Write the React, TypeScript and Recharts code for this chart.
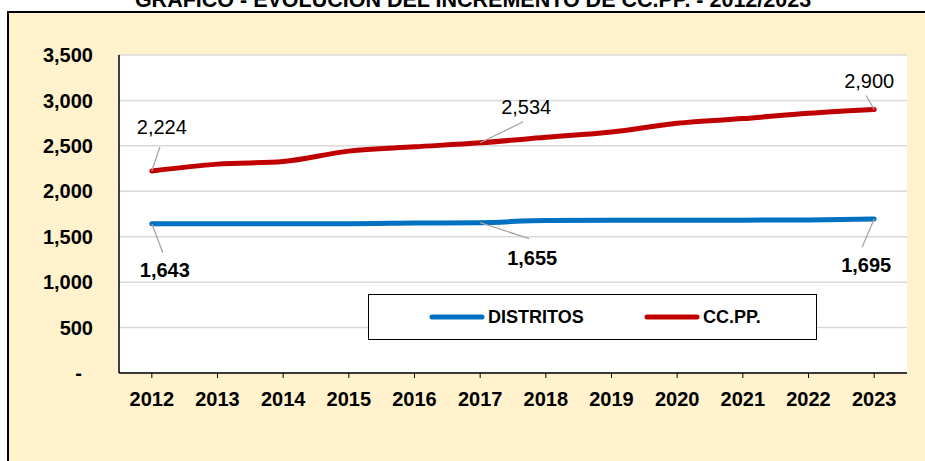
import React from 'react';
import { LineChart, Line, XAxis, YAxis, CartesianGrid, Legend, LabelList } from 'recharts';

const years = ['2012', '2013', '2014', '2015', '2016', '2017', '2018', '2019', '2020', '2021', '2022', '2023'];
const distritos = [1643, 1643, 1643, 1643, 1650, 1655, 1678, 1680, 1680, 1682, 1685, 1695];
const ccpp = [2224, 2299, 2328, 2442, 2489, 2534, 2594, 2652, 2748, 2800, 2858, 2900];
const yTicks = [0, 500, 1000, 1500, 2000, 2500, 3000, 3500];
const seriesNames = ['DISTRITOS', 'CC.PP.'];
const title = 'GRÁFICO - EVOLUCIÓN DEL INCREMENTO DE CC.PP. - 2012/2023';

const data = years.map((y, i) => ({ year: y, distritos: distritos[i], ccpp: ccpp[i] }));

const FONT = '"Liberation Sans", Arial, sans-serif';
const BLUE = '#0070C0';
const RED = '#C00000';

// label placement (styling): text centre offset (tx,ty) and leader end (lx,ly), keyed by point index
const ccppLabelPos: Record<number, { tx: number; ty: number; lx: number; ly: number }> = {
  0: { tx: 10, ty: -44, lx: 8, ly: -24 },
  5: { tx: 46, ty: -36, lx: 43, ly: -21 },
  11: { tx: -5, ty: -29, lx: -8, ly: -14 },
};
const distLabelPos: Record<number, { tx: number; ty: number; lx: number; ly: number }> = {
  0: { tx: 13, ty: 46, lx: 11, ly: 29 },
  5: { tx: 52, ty: 35, lx: 49, ly: 16 },
  11: { tx: -8, ty: 46, lx: -12, ly: 28 },
};

const fmt = (v: number) => v.toLocaleString('en-US');

const makeLabel = (pos: Record<number, any>, bold: boolean) => (props: any) => {
  const { x, y, value, index } = props;
  const o = pos[index];
  if (!o) return null;
  return (
    <g>
      <line x1={x} y1={y} x2={x + o.lx} y2={y + o.ly} stroke="#a6a6a6" strokeWidth={1.3} />
      <text
        x={x + o.tx}
        y={y + o.ty}
        dy="0.36em"
        textAnchor="middle"
        fontFamily={FONT}
        fontSize={20}
        fontWeight={bold ? 'bold' : 'normal'}
        fill="#000"
      >
        {fmt(value)}
      </text>
    </g>
  );
};

const YTick = (props: any) => {
  const { x, y, payload } = props;
  const isZero = payload.value === 0;
  return (
    <text
      x={isZero ? x - 11 : x}
      y={y}
      dy="0.36em"
      textAnchor="end"
      fontFamily={FONT}
      fontSize={20}
      fontWeight="bold"
      fill="#000"
    >
      {isZero ? '-' : fmt(payload.value)}
    </text>
  );
};

const LegendBox = (props: any) => {
  const payload = [...(props.payload || [])].sort(
    (a: any, b: any) => seriesNames.indexOf(a.value) - seriesNames.indexOf(b.value)
  );
  const lefts = [60, 275];
  return (
    <div
      style={{
        width: 449,
        height: 46,
        boxSizing: 'border-box',
        border: '1px solid #000',
        background: '#fff',
        position: 'relative',
        fontFamily: FONT,
      }}
    >
      {payload.map((p: any, i: number) => (
        <div
          key={i}
          style={{
            position: 'absolute',
            left: lefts[i],
            top: 0,
            height: 44,
            display: 'flex',
            alignItems: 'center',
          }}
        >
          <svg width={56} height={10} style={{ display: 'block' }}>
            <line x1={3} y1={5} x2={53} y2={5} stroke={p.color} strokeWidth={5} strokeLinecap="round" />
          </svg>
          <span style={{ fontSize: 18, fontWeight: 'bold', color: '#000', marginLeft: 3, whiteSpace: 'nowrap' }}>
            {p.value}
          </span>
        </div>
      ))}
    </div>
  );
};

export default function App() {
  return (
    <div style={{ position: 'fixed', left: 0, top: 0, width: 925, height: 461, overflow: 'hidden', background: '#fff' }}>
      <div
        style={{
          position: 'absolute',
          left: 7,
          top: 11,
          width: 960,
          height: 500,
          background: '#FFF2CC',
          borderLeft: '2px solid #000',
          borderTop: '2px solid #000',
          boxSizing: 'border-box',
        }}
      />
      <svg
        width={925}
        height={20}
        style={{ position: 'absolute', left: 0, top: 0, display: 'block', overflow: 'hidden' }}
      >
        <text x={473} y={7} textAnchor="middle" fontFamily={FONT} fontSize={21.5} fontWeight="bold" fill="#000">
          {title}
        </text>
      </svg>
      <div style={{ position: 'absolute', left: 0, top: 0 }}>
        <LineChart width={925} height={461} data={data} margin={{ top: 55, right: 18, bottom: 58, left: 0 }}>
          <CartesianGrid vertical={false} stroke="#d9d9d9" strokeWidth={1.5} fill="#fff" />
          <XAxis
            dataKey="year"
            height={30}
            padding={{ left: 32.83, right: 32.83 }}
            axisLine={{ stroke: '#000', strokeWidth: 1.5 }}
            tickLine={{ stroke: '#000' }}
            tickSize={5}
            tickMargin={14}
            interval={0}
            tick={{ fontFamily: FONT, fontSize: 20, fontWeight: 'bold', fill: '#000' }}
          />
          <XAxis xAxisId="top" orientation="top" dataKey="year" height={0} tick={false} tickLine={false} axisLine={{ stroke: '#404040' }} />
          <YAxis
            width={119}
            domain={[0, 3500]}
            ticks={yTicks}
            interval={0}
            tickSize={0}
            tickMargin={26}
            axisLine={{ stroke: '#000', strokeWidth: 1.5 }}
            tickLine={false}
            tick={<YTick />}
          />
          <YAxis yAxisId="right" orientation="right" width={0} domain={[0, 3500]} tick={false} tickLine={false} axisLine={{ stroke: '#404040' }} />
          <Legend
            layout="horizontal"
            verticalAlign="middle"
            align="center"
            content={<LegendBox />}
            wrapperStyle={{ left: 368, top: 294, width: 449, height: 46 }}
          />
          <Line
            type="monotone"
            dataKey="distritos"
            name={seriesNames[0]}
            stroke={BLUE}
            strokeWidth={5}
            strokeLinecap="round"
            dot={false}
            activeDot={false}
            isAnimationActive={false}
          >
            <LabelList dataKey="distritos" content={makeLabel(distLabelPos, true)} />
          </Line>
          <Line
            type="monotone"
            dataKey="ccpp"
            name={seriesNames[1]}
            stroke={RED}
            strokeWidth={5}
            strokeLinecap="round"
            dot={false}
            activeDot={false}
            isAnimationActive={false}
          >
            <LabelList dataKey="ccpp" content={makeLabel(ccppLabelPos, false)} />
          </Line>
        </LineChart>
      </div>
    </div>
  );
}
